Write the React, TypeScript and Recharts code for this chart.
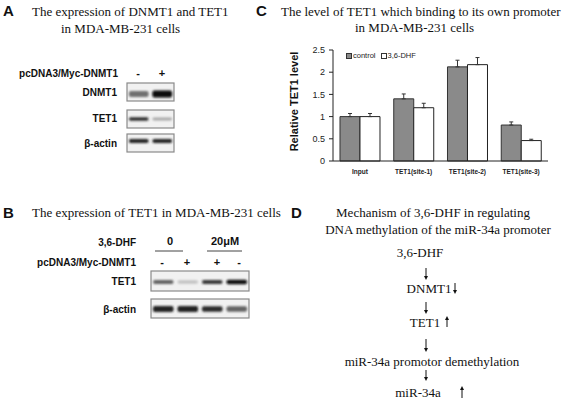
import { Bar, BarChart, ErrorBar, Label, Legend, XAxis, YAxis } from "recharts";

// panel C values
const categories = ["Input", "TET1(site-1)", "TET1(site-2)", "TET1(site-3)"];
const controlValues = [1.0, 1.4, 2.12, 0.81];
const dhfValues = [1.0, 1.2, 2.17, 0.46];
const controlErrors = [0.07, 0.11, 0.15, 0.07];
const dhfErrors = [0.07, 0.1, 0.16, 0.03];
const yTicks = [0, 0.5, 1, 1.5, 2, 2.5];

// band darkness for the blots (0 = none, 1 = black)
const blotADnmt1 = [0.55, 1.0];
const blotATet1 = [0.85, 0.3];
const blotAActin = [0.9, 0.9];
const blotBTet1 = [0.6, 0.18, 0.8, 1.0];
const blotBActin = [0.9, 0.9, 0.85, 0.6];

const SERIF = "'Liberation Serif', 'Times New Roman', serif";
const SANS = "'Liberation Sans', Arial, sans-serif";

const chartData = categories.map((name, i) => ({
  name,
  control: controlValues[i],
  dhf: dhfValues[i],
  controlErr: [0, controlErrors[i]],
  dhfErr: [0, dhfErrors[i]],
}));

type BlotProps = {
  x: number;
  y: number;
  w: number;
  h: number;
  lanes: number[];
  bandY: number;
  bandH: number;
};

function Blot({ x, y, w, h, lanes, bandY, bandH }: BlotProps) {
  const laneW = w / lanes.length;
  return (
    <g>
      <rect x={x} y={y} width={w} height={h} fill="#f1f1f1" stroke="#8a8a8a" strokeWidth={1.2} />
      {lanes.map((v, i) => {
        const g = Math.round(235 - v * 225);
        return (
          <rect
            key={i}
            x={x + laneW * i + laneW * 0.08}
            y={bandY - (bandH * (0.7 + v * 0.3)) / 2}
            width={laneW * 0.84}
            height={bandH * (0.7 + v * 0.3)}
            rx={2}
            fill={`rgb(${g},${g},${g})`}
            filter="url(#blur)"
          />
        );
      })}
    </g>
  );
}

function Bold({ x, y, children, anchor = "end", size = 10 }: any) {
  return (
    <text x={x} y={y} textAnchor={anchor} fontFamily={SANS} fontWeight="bold" fontSize={size} fill="#111">
      {children}
    </text>
  );
}

function Serif({ x, y, children, anchor = "start", size = 13 }: any) {
  return (
    <text x={x} y={y} textAnchor={anchor} fontFamily={SERIF} fontSize={size} fill="#111">
      {children}
    </text>
  );
}

// thin flow-chart arrow from y1 to y2 (head at y2)
function Arrow({ x, y1, y2 }: { x: number; y1: number; y2: number }) {
  const dir = y2 > y1 ? 1 : -1;
  return (
    <g>
      <line x1={x} x2={x} y1={y1} y2={y2 - dir * 3} stroke="#111" strokeWidth={1} />
      <path d={`M${x - 2},${y2 - dir * 4} L${x + 2},${y2 - dir * 4} L${x},${y2} Z`} fill="#111" />
    </g>
  );
}

function ChartLegend() {
  const item = (fill: string, text: string) => (
    <span style={{ display: "inline-flex", alignItems: "center", marginRight: 5 }}>
      <span
        style={{
          display: "inline-block",
          width: 4,
          height: 4,
          background: fill,
          border: "1px solid #333",
          marginRight: 1,
        }}
      />
      {text}
    </span>
  );
  return (
    <div style={{ fontFamily: SANS, fontSize: 7.5, color: "#222", whiteSpace: "nowrap", lineHeight: "9px" }}>
      {item("#8a8a8a", "control")}
      {item("#ffffff", "3,6-DHF")}
    </div>
  );
}

export default function App() {
  return (
    <div
      style={{
        position: "absolute",
        left: 0,
        top: 0,
        width: 567,
        height: 401,
        background: "#fff",
        overflow: "hidden",
      }}
    >
      <svg width={567} height={401} style={{ position: "absolute", left: 0, top: 0 }}>
        <defs>
          <filter id="blur" x="-20%" y="-100%" width="140%" height="300%">
            <feGaussianBlur stdDeviation="1.1" />
          </filter>
        </defs>

        {/* A */}
        <Bold x={3} y={16} anchor="start" size={15}>A</Bold>
        <Serif x={32} y={16}>The expression of DNMT1 and TET1</Serif>
        <Serif x={61} y={33}>in MDA-MB-231 cells</Serif>
        <Bold x={118} y={77}>pcDNA3/Myc-DNMT1</Bold>
        <Bold x={138} y={77} anchor="middle" size={11}>-</Bold>
        <Bold x={162} y={77} anchor="middle" size={11}>+</Bold>
        <Bold x={117} y={96}>DNMT1</Bold>
        <Bold x={117} y={122}>TET1</Bold>
        <Bold x={117} y={147}>β-actin</Bold>
        <Blot x={127} y={83} w={47} h={18} lanes={blotADnmt1} bandY={94} bandH={7} />
        <Blot x={127} y={110} w={47} h={18} lanes={blotATet1} bandY={119} bandH={3.5} />
        <Blot x={127} y={134} w={47} h={18} lanes={blotAActin} bandY={141} bandH={4} />

        {/* B */}
        <Bold x={3} y={218} anchor="start" size={15}>B</Bold>
        <Serif x={32} y={217}>The expression of TET1 in MDA-MB-231 cells</Serif>
        <Bold x={136} y={246}>3,6-DHF</Bold>
        <Bold x={170} y={245} anchor="middle" size={11}>0</Bold>
        <Bold x={225} y={245} anchor="middle" size={11}>20μM</Bold>
        <line x1={155} x2={183} y1={251} y2={251} stroke="#444" strokeWidth={1} />
        <line x1={207} x2={242} y1={251} y2={251} stroke="#444" strokeWidth={1} />
        <Bold x={136} y={266}>pcDNA3/Myc-DNMT1</Bold>
        <Bold x={162} y={266} anchor="middle" size={11}>-</Bold>
        <Bold x={187} y={266} anchor="middle" size={11}>+</Bold>
        <Bold x={217} y={266} anchor="middle" size={11}>+</Bold>
        <Bold x={239} y={266} anchor="middle" size={11}>-</Bold>
        <Bold x={136} y={285}>TET1</Bold>
        <Bold x={136} y={313}>β-actin</Bold>
        <Blot x={151} y={271} w={98} h={20} lanes={blotBTet1} bandY={282} bandH={4.5} />
        <Blot x={151} y={299} w={98} h={19} lanes={blotBActin} bandY={309} bandH={6} />

        {/* C titles */}
        <Bold x={256} y={16} anchor="start" size={15}>C</Bold>
        <Serif x={281} y={16}>The level of TET1 which binding to its own  promoter</Serif>
        <Serif x={355} y={32}>in MDA-MB-231 cells</Serif>

        {/* D */}
        <Bold x={291} y={218} anchor="start" size={15}>D</Bold>
        <Serif x={433} y={217} anchor="middle">Mechanism of 3,6-DHF in regulating</Serif>
        <Serif x={438} y={234} anchor="middle">DNA methylation of the miR-34a promoter</Serif>
        <Serif x={420} y={257} anchor="middle">3,6-DHF</Serif>
        <Arrow x={426} y1={268} y2={280} />
        <Serif x={429} y={293} anchor="middle">DNMT1</Serif>
        <Arrow x={455} y1={283} y2={294} />
        <Arrow x={426} y1={302} y2={314} />
        <Serif x={425} y={327} anchor="middle">TET1</Serif>
        <Arrow x={447} y1={327} y2={316} />
        <Arrow x={426} y1={339} y2={352} />
        <Serif x={432} y={366} anchor="middle">miR-34a promotor demethylation</Serif>
        <Arrow x={426} y1={370} y2={381} />
        <Serif x={418} y={397} anchor="middle">miR-34a</Serif>
        <Arrow x={462} y1={398} y2={386} />
      </svg>

      <div style={{ position: "absolute", left: 285, top: 40 }}>
        <BarChart
          width={270}
          height={145}
          data={chartData}
          margin={{ top: 10, right: 7, bottom: 0, left: 0 }}
          barGap={0}
          barCategoryGap="13%"
        >
          <XAxis
            dataKey="name"
            height={24}
            tickLine={false}
            tickSize={4}
            tickMargin={4}
            interval={0}
            axisLine={{ stroke: "#222" }}
            tick={{ fontSize: 6.5, fontWeight: "bold", fill: "#222", fontFamily: SANS }}
          />
          <YAxis
            width={48}
            domain={[0, 2.5]}
            ticks={yTicks}
            tickSize={4}
            tickMargin={4}
            axisLine={{ stroke: "#222" }}
            tickLine={{ stroke: "#222" }}
            tick={{ fontSize: 9, fill: "#222", fontFamily: SANS }}
          >
            <Label
              content={({ viewBox }: any) => {
                const cx = viewBox.x + 9;
                const cy = viewBox.y + viewBox.height / 2 - 4;
                return (
                  <text
                    x={cx}
                    y={cy}
                    transform={`rotate(-90 ${cx} ${cy})`}
                    textAnchor="middle"
                    dominantBaseline="central"
                    fontFamily={SANS}
                    fontWeight="bold"
                    fontSize={11}
                    fill="#111"
                  >
                    Relative TET1 level
                  </text>
                );
              }}
            />
          </YAxis>
          <Legend
            layout="horizontal"
            verticalAlign="middle"
            align="center"
            content={() => <ChartLegend />}
            wrapperStyle={{ left: 61, top: 11, width: "auto" }}
          />
          <Bar dataKey="control" fill="#8a8a8a" stroke="#333" strokeWidth={1} isAnimationActive={false}>
            <ErrorBar dataKey="controlErr" direction="y" width={2} stroke="#333" strokeWidth={1} />
          </Bar>
          <Bar dataKey="dhf" fill="#ffffff" stroke="#222" strokeWidth={1} isAnimationActive={false}>
            <ErrorBar dataKey="dhfErr" direction="y" width={2} stroke="#333" strokeWidth={1} />
          </Bar>
        </BarChart>
      </div>
    </div>
  );
}
